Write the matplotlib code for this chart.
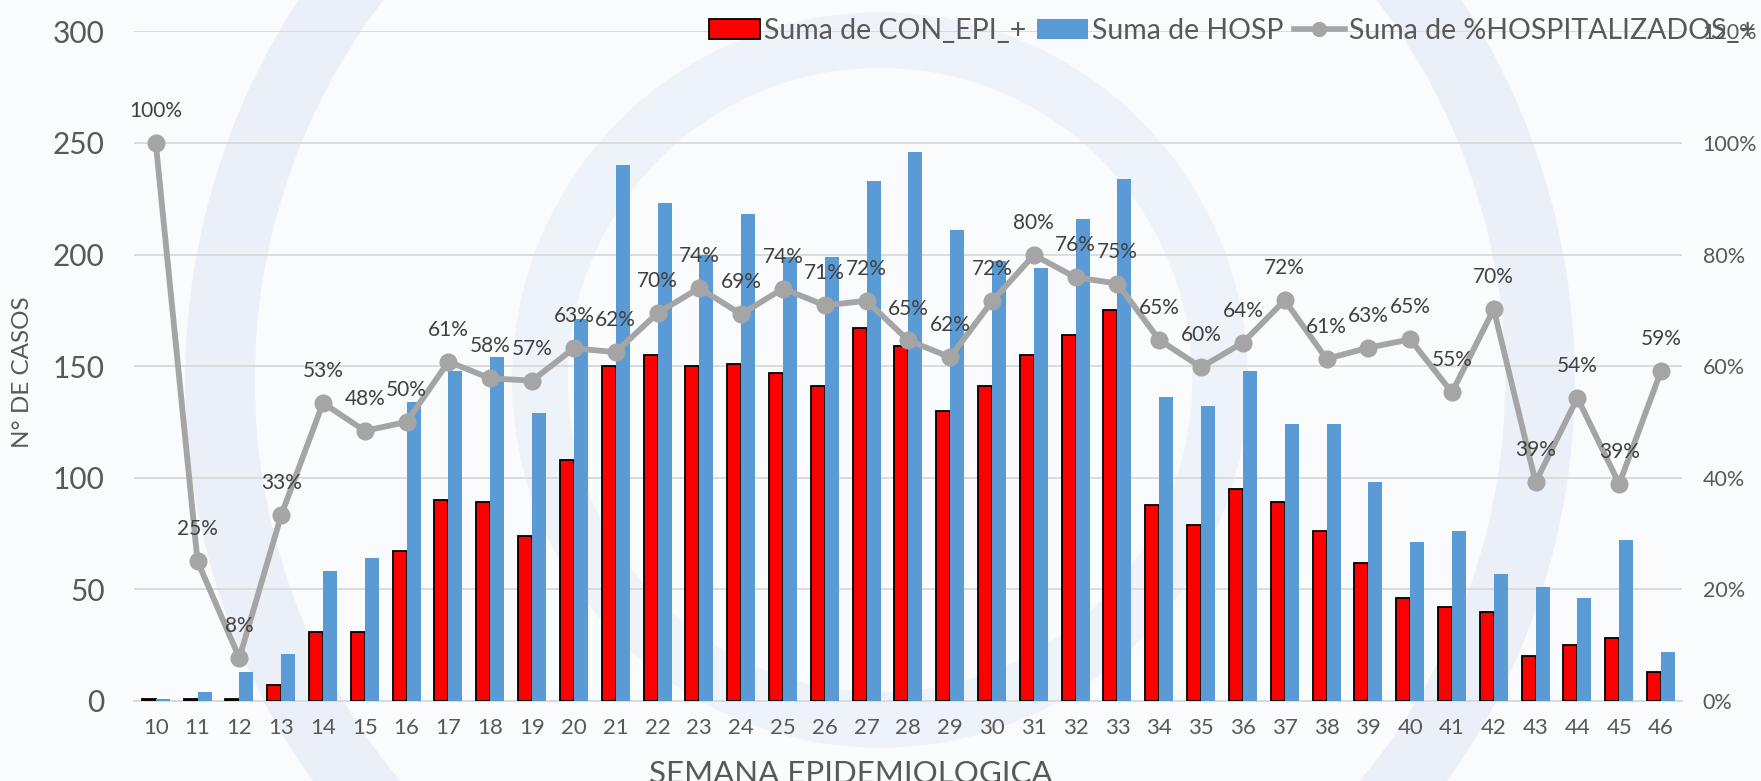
import numpy as np
import matplotlib.pyplot as plt
from matplotlib.patches import Patch, Circle
from matplotlib.lines import Line2D
from matplotlib.ticker import PercentFormatter

plt.rcParams['font.family'] = ['Lato', 'DejaVu Sans']

# Datos por semana epidemiologica
semanas = ['10', '11', '12', '13', '14', '15', '16', '17', '18', '19', '20',
           '21', '22', '23', '24', '25', '26', '27', '28', '29', '30', '31',
           '32', '33', '34', '35', '36', '37', '38', '39', '40', '41', '42',
           '43', '44', '45', '46']
con_epi = [1, 1, 1, 7, 31, 31, 67, 90, 89, 74, 108,
           150, 155, 150, 151, 147, 141, 167, 159, 130, 141, 155,
           164, 175, 88, 79, 95, 89, 76, 62, 46, 42, 40,
           20, 25, 28, 13]
hosp = [1, 4, 13, 21, 58, 64, 134, 148, 154, 129, 171,
        240, 223, 200, 218, 199, 199, 233, 246, 211, 197, 194,
        216, 234, 136, 132, 148, 124, 124, 98, 71, 76, 57,
        51, 46, 72, 22]
pct_hosp = [1.00, 0.25, 0.077, 0.333, 0.534, 0.484, 0.50, 0.608, 0.578, 0.574, 0.632,
            0.625, 0.695, 0.74, 0.693, 0.739, 0.709, 0.717, 0.646, 0.616, 0.716, 0.799,
            0.759, 0.748, 0.647, 0.598, 0.642, 0.718, 0.613, 0.633, 0.648, 0.553, 0.702,
            0.392, 0.543, 0.389, 0.591]

fig = plt.figure(figsize=(17.61, 7.81), dpi=100)
fig.patch.set_facecolor('#F9FBFD')

# marca de agua suave de fondo
wm = fig.add_axes([0, 0, 1, 1], zorder=-5)
wm.set_xlim(0, 1761)
wm.set_ylim(781, 0)
wm.axis('off')
wm.add_patch(Circle((880, 380), 660, fill=False, lw=50, ec='#EBF0F8'))
wm.add_patch(Circle((880, 380), 340, fill=False, lw=40, ec='#EEF2F9'))

ax = fig.add_axes([0.0761, 0.1025, 0.879, 0.8574])
ax.patch.set_alpha(0)
x = np.arange(len(semanas))
w = 0.335

ax.bar(x - w / 2, con_epi, w, color='#FF0000', edgecolor='black', linewidth=1.3, zorder=3)
ax.bar(x + w / 2, hosp, w, color='#5B9BD5', zorder=3)

ax.set_ylim(0, 300)
ax.set_yticks(range(0, 301, 50))
ax.set_xlim(-0.52, len(semanas) - 0.5)
ax.set_xticks(x)
ax.set_xticklabels(semanas)
ax.grid(axis='y', color='#D9D9D9', linewidth=1.3, zorder=0)
for s in ['top', 'right', 'left']:
    ax.spines[s].set_visible(False)
ax.spines['bottom'].set_color('#D9D9D9')
ax.spines['bottom'].set_linewidth(1.3)
ax.tick_params(axis='x', length=0, pad=12, labelsize=16, labelcolor='#595959')
ax.tick_params(axis='y', length=0, pad=21, labelsize=21.5, labelcolor='#595959')
fig.text(0.013, 0.524, 'N° DE CASOS', rotation=90, ha='center', va='center',
         fontsize=17.5, color='#595959')
fig.text(0.483, 0.027, 'SEMANA EPIDEMIOLOGICA', ha='center', va='top',
         fontsize=22.5, color='#595959')

ax2 = ax.twinx()
ax2.plot(x, pct_hosp, color='#A5A5A5', linewidth=4.2, marker='o', markersize=12, zorder=4)
ax2.set_ylim(0, 1.2)
ax2.set_yticks(np.arange(0, 1.21, 0.2))
ax2.yaxis.set_major_formatter(PercentFormatter(1.0, decimals=0))
ax2.tick_params(axis='y', length=0, pad=15, labelsize=15.5, labelcolor='#595959')
for s in ax2.spines.values():
    s.set_visible(False)

for xi, p in zip(x, pct_hosp):
    ax2.annotate(f'{p * 100:.0f}%', (xi, p), xytext=(0, 23), textcoords='offset points',
                 ha='center', va='center', fontsize=15, color='#404040', zorder=5)

handles = [Patch(facecolor='#FF0000', edgecolor='black', linewidth=1.3),
           Patch(facecolor='#5B9BD5'),
           Line2D([], [], color='#A5A5A5', linewidth=4, marker='o', markersize=10)]
labels = ['Suma de CON_EPI_+', 'Suma de HOSP', 'Suma de %HOSPITALIZADOS_+']
fig.legend(handles, labels, loc='upper left', bbox_to_anchor=(0.388, 1.01), ncol=3,
           frameon=False, fontsize=20.5, labelcolor='#595959', handlelength=1.8,
           handleheight=0.7, handletextpad=0.15, columnspacing=0.35)

fig.savefig('out.png', dpi=100, facecolor=fig.get_facecolor())
